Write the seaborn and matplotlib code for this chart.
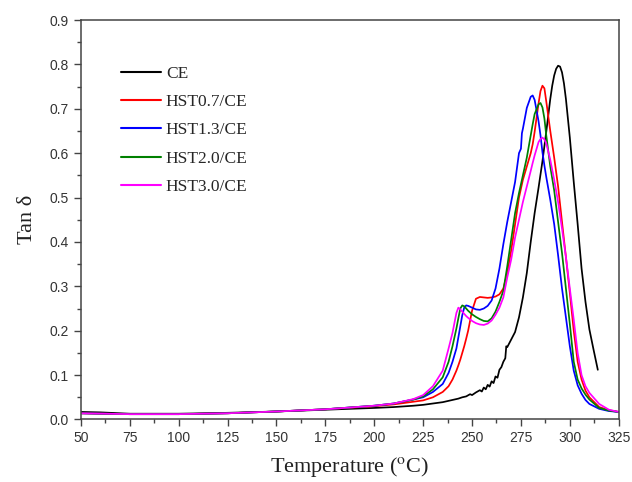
import numpy as np
import pandas as pd
import matplotlib
matplotlib.use("Agg")
import matplotlib.pyplot as plt
from matplotlib.ticker import MultipleLocator, FormatStrFormatter
import seaborn as sns

# Temperature grid (deg C) shared by the modified resins
temp_mod = [50, 75, 100, 125, 150, 175, 200, 210, 220, 225, 230, 235, 238, 240, 242,
            243, 244, 245, 246, 247, 248, 250, 252, 254, 256, 258, 260, 262, 264,
            266, 268, 270, 272, 274, 276, 278, 280, 281, 282, 284, 285, 286, 287,
            288, 290, 292, 294, 296, 298, 300, 302, 304, 306, 308, 310, 315, 320, 325]

tan_hst07 = [0.014, 0.012, 0.012, 0.014, 0.018, 0.023, 0.030, 0.034, 0.040, 0.043,
             0.050, 0.062, 0.075, 0.090, 0.110, 0.122, 0.135, 0.150, 0.165, 0.182,
             0.200, 0.245, 0.272, 0.276, 0.275, 0.274, 0.275, 0.277, 0.282, 0.295,
             0.330, 0.380, 0.440, 0.500, 0.540, 0.570, 0.600, 0.620, 0.648, 0.712,
             0.740, 0.752, 0.746, 0.715, 0.650, 0.590, 0.525, 0.445, 0.366, 0.285,
             0.200, 0.130, 0.090, 0.065, 0.050, 0.028, 0.021, 0.017]

tan_hst20 = [0.014, 0.012, 0.012, 0.014, 0.018, 0.023, 0.031, 0.036, 0.045, 0.052,
             0.068, 0.095, 0.130, 0.165, 0.205, 0.228, 0.250, 0.257, 0.255, 0.250,
             0.245, 0.237, 0.231, 0.226, 0.222, 0.221, 0.228, 0.243, 0.265, 0.290,
             0.345, 0.405, 0.465, 0.510, 0.550, 0.590, 0.640, 0.665, 0.688, 0.710,
             0.713, 0.703, 0.678, 0.638, 0.570, 0.516, 0.445, 0.375, 0.295, 0.215,
             0.130, 0.090, 0.070, 0.056, 0.045, 0.026, 0.020, 0.017]

tan_hst30 = [0.014, 0.012, 0.012, 0.014, 0.018, 0.023, 0.031, 0.036, 0.046, 0.055,
             0.075, 0.110, 0.160, 0.195, 0.240, 0.252, 0.248, 0.243, 0.238, 0.233,
             0.229, 0.222, 0.217, 0.214, 0.213, 0.216, 0.223, 0.236, 0.252, 0.275,
             0.320, 0.360, 0.410, 0.450, 0.490, 0.525, 0.560, 0.578, 0.595, 0.625,
             0.632, 0.635, 0.631, 0.621, 0.585, 0.540, 0.490, 0.430, 0.366, 0.295,
             0.225, 0.150, 0.100, 0.075, 0.060, 0.035, 0.022, 0.017]

# HST1.3/CE has a small step on its rising flank near 275 deg C
temp_hst13 = [50, 75, 100, 125, 150, 175, 200, 210, 220, 225, 230, 235, 238, 240, 242,
              243, 244, 245, 246, 247, 248, 250, 252, 254, 256, 258, 260, 262, 264,
              266, 268, 270, 272, 274, 275, 275.5, 276, 278, 280, 281, 282, 284, 285,
              286, 287, 288, 290, 292, 294, 296, 298, 300, 302, 304, 306, 308, 310,
              315, 320, 325]
tan_hst13 = [0.014, 0.012, 0.012, 0.014, 0.018, 0.023, 0.031, 0.036, 0.045, 0.050,
             0.062, 0.080, 0.105, 0.130, 0.160, 0.185, 0.210, 0.235, 0.252, 0.257,
             0.256, 0.252, 0.248, 0.247, 0.250, 0.256, 0.268, 0.295, 0.340, 0.395,
             0.445, 0.490, 0.535, 0.600, 0.610, 0.645, 0.655, 0.702, 0.727, 0.730,
             0.720, 0.672, 0.640, 0.602, 0.572, 0.545, 0.495, 0.440, 0.370, 0.295,
             0.230, 0.165, 0.110, 0.077, 0.058, 0.044, 0.035, 0.024, 0.019, 0.017]

# Neat cyanate ester resin (noisy flank between 245 and 268 deg C)
temp_ce = [50, 60, 75, 100, 125, 150, 175, 200, 210, 220, 225, 230, 235, 240, 243,
           245, 247, 249, 250, 252, 254, 255, 256, 257, 258, 259, 260, 261, 262,
           263, 264, 265, 266, 267, 267.5, 268, 270, 272, 274, 276, 278, 280, 282,
           284, 286, 288, 290, 291, 292, 293, 294, 295, 296, 297, 298, 300, 302,
           304, 306, 308, 310, 312, 314.3]
tan_ce = [0.017, 0.016, 0.013, 0.013, 0.015, 0.018, 0.022, 0.026, 0.028, 0.031,
          0.033, 0.036, 0.039, 0.044, 0.047, 0.050, 0.052, 0.057, 0.055, 0.061,
          0.066, 0.063, 0.072, 0.068, 0.078, 0.074, 0.086, 0.082, 0.097, 0.094,
          0.112, 0.118, 0.130, 0.138, 0.165, 0.163, 0.180, 0.197, 0.230, 0.275,
          0.330, 0.400, 0.465, 0.522, 0.582, 0.650, 0.722, 0.752, 0.775, 0.790,
          0.797, 0.795, 0.782, 0.757, 0.722, 0.635, 0.535, 0.440, 0.340, 0.265,
          0.203, 0.160, 0.112]

labels = ["CE", "HST0.7/CE", "HST1.3/CE", "HST2.0/CE", "HST3.0/CE"]
colors = ["#000000", "#ff0000", "#0000ff", "#008000", "#ff00ff"]

series = [(labels[0], temp_ce, tan_ce),
          (labels[1], temp_mod, tan_hst07),
          (labels[2], temp_hst13, tan_hst13),
          (labels[3], temp_mod, tan_hst20),
          (labels[4], temp_mod, tan_hst30)]
df = pd.concat([pd.DataFrame({"T": t, "tan": v, "sample": n}) for n, t, v in series],
               ignore_index=True)

sns.set_style("ticks")
plt.rcParams["mathtext.fontset"] = "stix"

fig = plt.figure(figsize=(6.32, 4.82), dpi=100)
ax = fig.add_axes([0.128, 0.1297, 0.851, 0.8288])

sns.lineplot(data=df, x="T", y="tan", hue="sample", hue_order=labels,
             palette=dict(zip(labels, colors)), estimator=None, sort=False,
             linewidth=1.25, ax=ax)

ax.set_xlim(50, 325)
ax.set_ylim(0, 0.9)
ax.xaxis.set_major_locator(MultipleLocator(25))
ax.xaxis.set_minor_locator(MultipleLocator(12.5))
ax.yaxis.set_major_locator(MultipleLocator(0.1))
ax.yaxis.set_minor_locator(MultipleLocator(0.05))
ax.yaxis.set_major_formatter(FormatStrFormatter("%.1f"))

for s in ax.spines.values():
    s.set_visible(True)
    s.set_color("#444444")
    s.set_linewidth(1.1)
ax.tick_params(which="major", direction="out", length=5, width=1, colors="#444444",
               labelsize=10, labelcolor="#333333")
ax.tick_params(which="minor", direction="out", length=3, width=1, colors="#444444")
for lab in ax.get_xticklabels() + ax.get_yticklabels():
    lab.set_fontfamily("Liberation Sans")

ax.set_xlabel(r"Temperature ($^{\rm o}$C)", fontsize=16, fontfamily="Liberation Serif",
              color="#222222", labelpad=7)
ax.set_ylabel("Tan δ", fontsize=16, fontfamily="Liberation Serif",
              color="#222222", labelpad=9)

leg = ax.legend(loc="upper left", bbox_to_anchor=(0.045, 0.925), frameon=False,
                prop={"family": "Liberation Serif", "size": 12.5},
                handlelength=2.3, handletextpad=0.3, labelspacing=0.7)
for line in leg.get_lines():
    line.set_linewidth(1.5)

fig.savefig("out.png", dpi=100)
